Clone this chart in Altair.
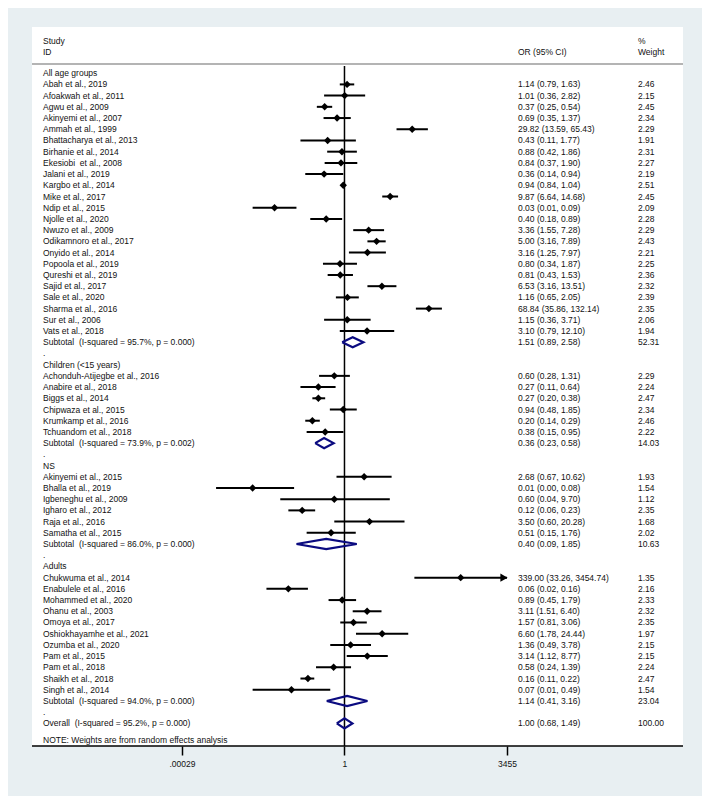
import altair as alt
import pandas as pd

FONT = "Liberation Sans"

# ---------------- data ----------------
group_titles = ["All age groups", "Children (<15 years)", "NS", "Adults"]

g1_names = ["Abah et al., 2019", "Afoakwah et al., 2011", "Agwu et al., 2009", "Akinyemi et al., 2007",
            "Ammah et al., 1999", "Bhattacharya et al., 2013", "Birhanie et al., 2014",
            "Ekesiobi\u00a0 et al., 2008", "Jalani et al., 2019", "Kargbo et al., 2014", "Mike et al., 2017",
            "Ndip et al., 2015", "Njolle et al., 2020", "Nwuzo et al., 2009", "Odikamnoro et al., 2017",
            "Onyido et al., 2014", "Popoola et al., 2019", "Qureshi et al., 2019", "Sajid et al., 2017",
            "Sale et al., 2020", "Sharma et al., 2016", "Sur et al., 2006", "Vats et al., 2018"]
g1_or = [1.14, 1.01, 0.37, 0.69, 29.82, 0.43, 0.88, 0.84, 0.36, 0.94, 9.87, 0.03, 0.40, 3.36, 5.00,
         3.16, 0.80, 0.81, 6.53, 1.16, 68.84, 1.15, 3.10]
g1_lo = [0.79, 0.36, 0.25, 0.35, 13.59, 0.11, 0.42, 0.37, 0.14, 0.84, 6.64, 0.01, 0.18, 1.55, 3.16,
         1.25, 0.34, 0.43, 3.16, 0.65, 35.86, 0.36, 0.79]
g1_hi = [1.63, 2.82, 0.54, 1.37, 65.43, 1.77, 1.86, 1.90, 0.94, 1.04, 14.68, 0.09, 0.89, 7.28, 7.89,
         7.97, 1.87, 1.53, 13.51, 2.05, 132.14, 3.71, 12.10]
g1_wt = [2.46, 2.15, 2.45, 2.34, 2.29, 1.91, 2.31, 2.27, 2.19, 2.51, 2.45, 2.09, 2.28, 2.29, 2.43,
         2.21, 2.25, 2.36, 2.32, 2.39, 2.35, 2.06, 1.94]
g1_sub = ["Subtotal\u00a0 (I-squared = 95.7%, p = 0.000)", 1.51, 0.89, 2.58, 52.31]

g2_names = ["Achonduh-Atijegbe et al., 2016", "Anabire et al., 2018", "Biggs et al., 2014",
            "Chipwaza et al., 2015", "Krumkamp et al., 2016", "Tchuandom et al., 2018"]
g2_or = [0.60, 0.27, 0.27, 0.94, 0.20, 0.38]
g2_lo = [0.28, 0.11, 0.20, 0.48, 0.14, 0.15]
g2_hi = [1.31, 0.64, 0.38, 1.85, 0.29, 0.95]
g2_wt = [2.29, 2.24, 2.47, 2.34, 2.46, 2.22]
g2_sub = ["Subtotal\u00a0 (I-squared = 73.9%, p = 0.002)", 0.36, 0.23, 0.58, 14.03]

g3_names = ["Akinyemi et al., 2015", "Bhalla et al., 2019", "Igbeneghu et al., 2009", "Igharo et al., 2012",
            "Raja et al., 2016", "Samatha et al., 2015"]
g3_or = [2.68, 0.01, 0.60, 0.12, 3.50, 0.51]
g3_lo = [0.67, 0.0016, 0.04, 0.06, 0.60, 0.15]
g3_hi = [10.62, 0.08, 9.70, 0.23, 20.28, 1.76]
g3_wt = [1.93, 1.54, 1.12, 2.35, 1.68, 2.02]
g3_sub = ["Subtotal\u00a0 (I-squared = 86.0%, p = 0.000)", 0.40, 0.09, 1.85, 10.63]

g4_names = ["Chukwuma et al., 2014", "Enabulele et al., 2016", "Mohammed et al., 2020", "Ohanu et al., 2003",
            "Omoya et al., 2017", "Oshiokhayamhe et al., 2021", "Ozumba et al., 2020", "Pam et al., 2015",
            "Pam et al., 2018", "Shaikh et al., 2018", "Singh et al., 2014"]
g4_or = [339.00, 0.06, 0.89, 3.11, 1.57, 6.60, 1.36, 3.14, 0.58, 0.16, 0.07]
g4_lo = [33.26, 0.02, 0.45, 1.51, 0.81, 1.78, 0.49, 1.12, 0.24, 0.11, 0.01]
g4_hi = [3454.74, 0.16, 1.79, 6.40, 3.06, 24.44, 3.78, 8.77, 1.39, 0.22, 0.49]
g4_wt = [1.35, 2.16, 2.33, 2.32, 2.35, 1.97, 2.15, 2.15, 2.24, 2.47, 1.54]
g4_sub = ["Subtotal\u00a0 (I-squared = 94.0%, p = 0.000)", 1.14, 0.41, 3.16, 23.04]

overall = ["Overall\u00a0 (I-squared = 95.2%, p = 0.000)", 1.00, 0.68, 1.49, 100.00]

tick_values = [0.00029, 1, 3455]
tick_labels = [".00029", "1", "3455"]
note_text = "NOTE: Weights are from random effects analysis"

# ---------------- build tables ----------------
groups = [
    (g1_names, g1_or, g1_lo, g1_hi, g1_wt, g1_sub),
    (g2_names, g2_or, g2_lo, g2_hi, g2_wt, g2_sub),
    (g3_names, g3_or, g3_lo, g3_hi, g3_wt, g3_sub),
    (g4_names, g4_or, g4_lo, g4_hi, g4_wt, g4_sub),
]


def ci_text(o, l, h):
    return f"{o:.2f} ({l:.2f}, {h:.2f})"


rows = []
r = 0
for title, (nm, o_, l_, h_, w_, sub) in zip(group_titles, groups):
    rows.append(dict(row=r, label=title, kind="title", ci="", wt=""))
    r += 1
    for n, o, l, h, w in zip(nm, o_, l_, h_, w_):
        rows.append(dict(row=r, label=n, kind="study", est=o, lo=l, hi=h,
                         ci=ci_text(o, l, h), wt=f"{w:.2f}"))
        r += 1
    rows.append(dict(row=r, label=sub[0], kind="pooled", est=sub[1], lo=sub[2], hi=sub[3],
                     ci=ci_text(*sub[1:4]), wt=f"{sub[4]:.2f}"))
    r += 1
    rows.append(dict(row=r, label=".", kind="dot", ci="", wt=""))
    r += 1
rows.append(dict(row=r, label=overall[0], kind="pooled", est=overall[1], lo=overall[2], hi=overall[3],
                 ci=ci_text(*overall[1:4]), wt=f"{overall[4]:.2f}"))
df = pd.DataFrame(rows)
n_last = r

studies = df[df.kind == "study"].copy()
pooled = df[df.kind == "pooled"]

half = 0.45
dia = []
for i, p in enumerate(pooled.itertuples()):
    pts = [(p.lo, p.row), (p.est, p.row - half), (p.hi, p.row), (p.est, p.row + half), (p.lo, p.row)]
    for k, (xx, yy) in enumerate(pts):
        dia.append(dict(d=i, v=k, x=xx, y=yy))
dia = pd.DataFrame(dia)

# ---------------- scales ----------------
W, H = 651, 719
row0, step = 46.2, 11.21
xs = alt.Scale(type="log", domain=[tick_values[0], tick_values[-1]], range=[150, 475], nice=False)
ys = alt.Scale(domain=[0, n_last], range=[row0, row0 + n_last * step], nice=False, zero=False)

label_expr = " : ".join(f"datum.value == {v} ? '{t}'" for v, t in zip(tick_values, tick_labels)) + " : ''"
xaxis = alt.Axis(values=tick_values, labelExpr=label_expr, title=None, domain=False, grid=False,
                 tickSize=9, tickWidth=1.5, tickColor="black", labelFontSize=8.5, labelColor="#111",
                 labelFont=FONT, labelPadding=4, labelFlush=False, labelOverlap=False)


def X(f):
    return alt.X(f, type="quantitative", scale=xs, axis=xaxis)


def Y(f):
    return alt.Y(f, type="quantitative", scale=ys, axis=None)


base = alt.Chart(studies)

ci_rules = base.mark_rule(color="black", strokeWidth=2).encode(x=X("lo"), x2="hi", y=Y("row"))
pts = base.mark_point(shape="diamond", filled=True, size=55, color="black", opacity=1).encode(
    x=X("est"), y=Y("row"))
arrows = base.transform_filter(f"datum.hi > {tick_values[-1]} * 0.9").mark_point(
    shape="triangle-right", filled=True, size=70, color="black", opacity=1, xOffset=-3).encode(
    x=X("hi"), y=Y("row"))

diamonds = alt.Chart(dia).mark_line(color="#0b0b80", strokeWidth=2.2, strokeJoin="miter").encode(
    x=X("x"), y=Y("y"), detail="d:N", order="v:Q")

ref = alt.Chart(pd.DataFrame({"x": [1]})).mark_rule(color="black", strokeWidth=1.5).encode(
    x=X("x"), y=alt.value(39), y2=alt.value(H))

txt_kw = dict(font=FONT, fontSize=8.5, color="#111", align="left", baseline="middle")
tbase = alt.Chart(df)
lab = tbase.mark_text(**txt_kw).encode(x=alt.value(11), y=Y("row"), text="label:N")
cis = tbase.mark_text(**txt_kw).encode(x=alt.value(486), y=Y("row"), text="ci:N")
wts = tbase.mark_text(**txt_kw).encode(x=alt.value(606), y=Y("row"), text="wt:N")

hdr = pd.DataFrame({
    "t": ["Study", "ID", "OR (95% CI)", "%", "Weight"],
    "px": [11, 11, 486, 606, 606],
    "py": [13.5, 25, 25, 13.5, 25],
})
header = alt.Chart(hdr).mark_text(**txt_kw).encode(
    x=alt.X("px:Q", scale=None), y=alt.Y("py:Q", scale=None), text="t:N")

sep = alt.Chart(pd.DataFrame({"a": [0]})).mark_rule(color="#b4b4b4", strokeWidth=2).encode(
    x=alt.value(0), x2=alt.value(W), y=alt.value(37))
bottom = alt.Chart(pd.DataFrame({"a": [0]})).mark_rule(color="black", strokeWidth=1.5).encode(
    x=alt.value(0), x2=alt.value(W), y=alt.value(H))
note = alt.Chart(pd.DataFrame({"t": [note_text]})).mark_text(**txt_kw).encode(
    x=alt.value(11), y=alt.value(H - 6), text="t:N")

chart = alt.layer(sep, ref, ci_rules, pts, arrows, diamonds, lab, cis, wts, header, note, bottom).properties(
    width=W, height=H,
    autosize=alt.AutoSizeParams(type="none"),
    padding={"left": 24, "top": 19, "right": 19, "bottom": 50},
    background="#e8eff2",
).configure_view(fill="white", stroke=None)

chart.save("out.html", embed_options={"renderer": "svg", "actions": False})
